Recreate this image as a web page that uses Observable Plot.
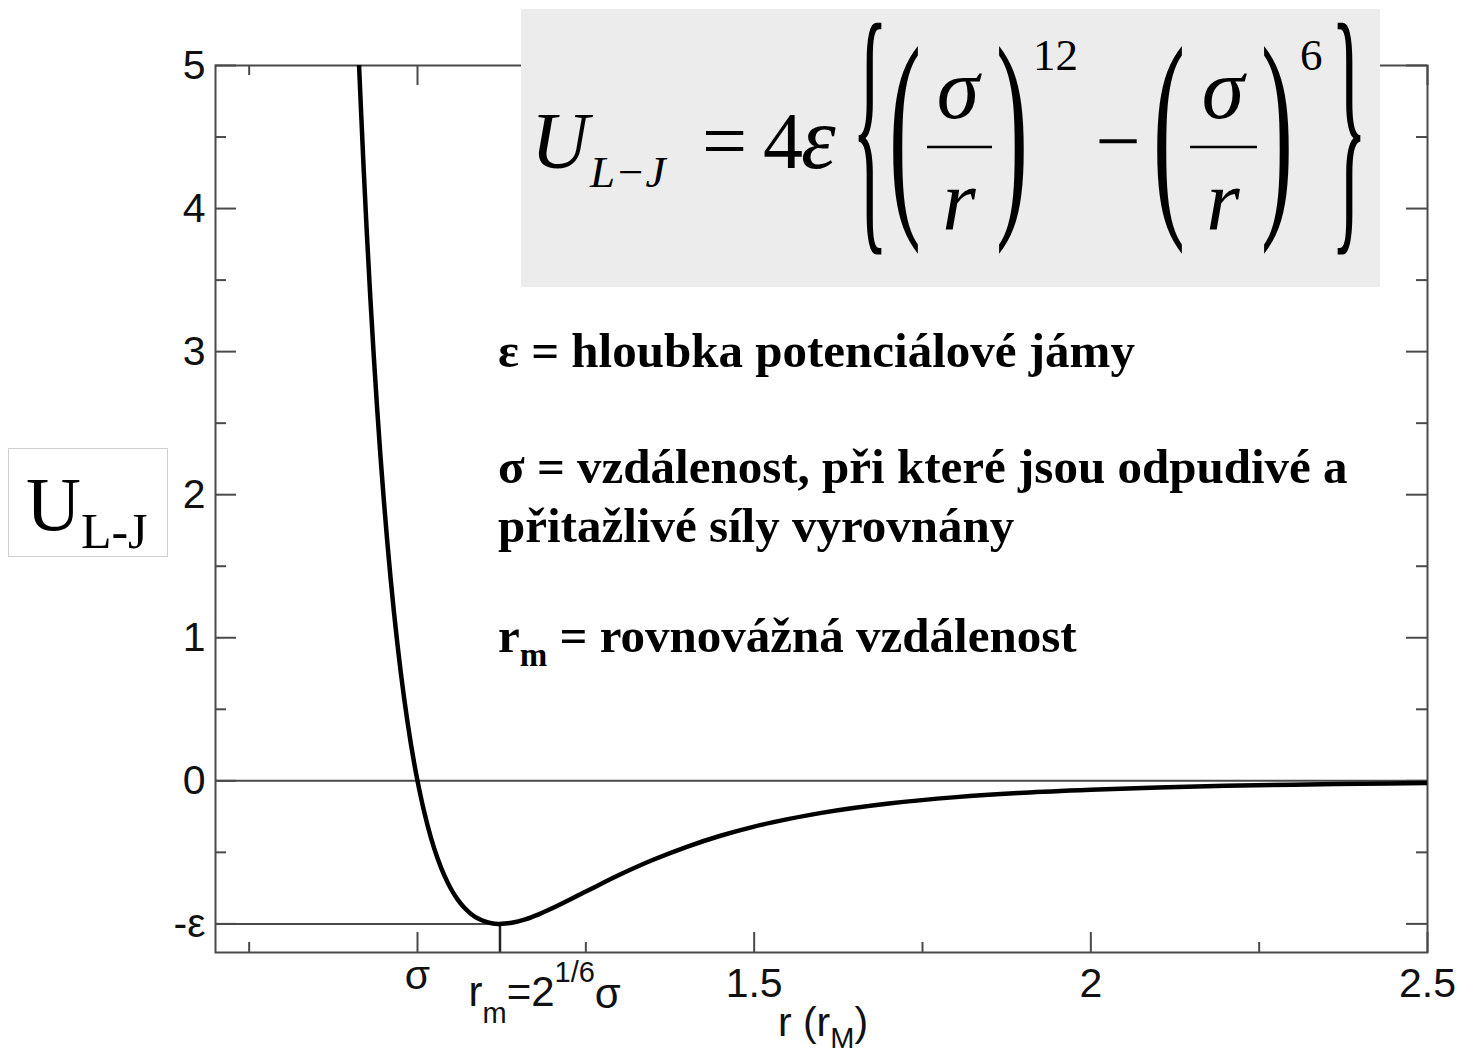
<!DOCTYPE html>
<html>
<head>
<meta charset="utf-8">
<script src="https://cdn.jsdelivr.net/npm/d3@7"></script>
<script src="https://cdn.jsdelivr.net/npm/@observablehq/plot@0.6"></script>
<style>
  html, body { margin: 0; padding: 0; background: #fff; }
  #chart svg { display: block; }
</style>
</head>
<body>
<div id="chart"></div>
<script>
// ---- data ----
const rValues = [0.912, 0.92, 0.925, 0.93, 0.935, 0.94, 0.945, 0.95, 0.955, 0.96,
  0.965, 0.97, 0.975, 0.98, 0.985, 0.99, 0.995, 1.0, 1.01, 1.02,
  1.03, 1.04, 1.05, 1.06, 1.07, 1.08, 1.09, 1.10, 1.11, 1.12,
  1.13, 1.14, 1.16, 1.18, 1.20, 1.25, 1.30, 1.35, 1.40, 1.45,
  1.50, 1.55, 1.60, 1.70, 1.80, 1.90, 2.0, 2.1, 2.2, 2.3,
  2.4, 2.5];
const uValues = [5.13, 4.283, 3.808, 3.373, 2.973, 2.607, 2.270, 1.961, 1.678, 1.418,
  1.180, 0.963, 0.764, 0.582, 0.416, 0.264, 0.125, 0, -0.218, -0.398,
  -0.544, -0.663, -0.758, -0.832, -0.889, -0.932, -0.963, -0.983, -0.995, -1.0,
  -0.998, -0.992, -0.968, -0.933, -0.891, -0.774, -0.657, -0.552, -0.461, -0.384,
  -0.320, -0.268, -0.224, -0.159, -0.114, -0.083, -0.062, -0.046, -0.035, -0.027,
  -0.021, -0.016];

const xDomain = [0.7, 2.5];
const yDomain = [-1.2, 5];
const sigmaValue = 1;
const rmValue = 1.1225;
const epsValue = -1;

const xMajorTicks = [1, 1.5, 2, 2.5];
const xMinorTicks = [0.75, 1.25, 1.75, 2.25];
const xNumericLabels = [1.5, 2, 2.5];
const xNumericLabelTexts = ["1.5", "2", "2.5"];
const yMajorTicks = [-1, 0, 1, 2, 3, 4, 5];
const yMinorTicks = [-0.5, 0.5, 1.5, 2.5, 3.5, 4.5];
const yTickLabels = ["-ε", "0", "1", "2", "3", "4", "5"];

const curve = rValues.map((r, i) => ({r, u: uValues[i]}));
const epsLine = [{x1: xDomain[0], x2: rmValue, y: epsValue}];
const rmLine = [{x: rmValue, y1: yDomain[0], y2: epsValue}];

// ---- layout ----
const W = 1461, H = 1054;
const mL = 215, mR = 34, mT = 65, mB = 102;
const innerW = W - mL - mR, innerH = H - mT - mB;
const axisColor = "#4a4a4a";
const sans = "'Liberation Sans', Arial, Helvetica, sans-serif";
const serif = "'Liberation Serif', 'Times New Roman', Times, serif";

const chart = Plot.plot({
  width: W, height: H,
  marginLeft: mL, marginRight: mR, marginTop: mT, marginBottom: mB,
  x: {domain: xDomain, axis: null},
  y: {domain: yDomain, axis: null},
  style: {fontFamily: sans, background: "#fff", color: "#000"},
  marks: [
    Plot.ruleY([0], {stroke: axisColor, strokeWidth: 2}),
    Plot.ruleY(epsLine, {y: "y", x1: "x1", x2: "x2", stroke: axisColor, strokeWidth: 2}),
    Plot.ruleX(rmLine, {x: "x", y1: "y1", y2: "y2", stroke: "#222", strokeWidth: 2.5}),
    // ticks (inward, on all four sides)
    Plot.tickX(xMajorTicks, {x: d => d, insetTop: innerH - 20, stroke: axisColor, strokeWidth: 2}),
    Plot.tickX(xMinorTicks, {x: d => d, insetTop: innerH - 10, stroke: axisColor, strokeWidth: 2}),
    Plot.tickX(xMajorTicks, {x: d => d, insetBottom: innerH - 20, stroke: axisColor, strokeWidth: 2}),
    Plot.tickX(xMinorTicks, {x: d => d, insetBottom: innerH - 10, stroke: axisColor, strokeWidth: 2}),
    Plot.tickY(yMajorTicks, {y: d => d, insetRight: innerW - 21, stroke: axisColor, strokeWidth: 2}),
    Plot.tickY(yMinorTicks, {y: d => d, insetRight: innerW - 11, stroke: axisColor, strokeWidth: 2}),
    Plot.tickY(yMajorTicks, {y: d => d, insetLeft: innerW - 21, stroke: axisColor, strokeWidth: 2}),
    Plot.tickY(yMinorTicks, {y: d => d, insetLeft: innerW - 11, stroke: axisColor, strokeWidth: 2}),
    Plot.frame({stroke: axisColor, strokeWidth: 2}),
    Plot.line(curve, {x: "r", y: "u", curve: "catmull-rom", stroke: "#000", strokeWidth: 4.5, clip: true}),
    // tick labels
    Plot.text(yMajorTicks, {y: d => d, text: (d, i) => yTickLabels[i], frameAnchor: "left",
      textAnchor: "end", dx: -10, fontSize: 41, fill: "#111"}),
    Plot.text(xNumericLabels, {x: d => d, text: (d, i) => xNumericLabelTexts[i], frameAnchor: "bottom",
      lineAnchor: "top", dy: 15, fontSize: 41, fill: "#111"}),
    Plot.text([sigmaValue], {x: d => d, text: () => "σ", frameAnchor: "bottom",
      lineAnchor: "top", dy: 7, fontSize: 41, fill: "#111"})
  ]
});

document.getElementById("chart").appendChild(chart);

const svg = d3.select(chart);
const xs = chart.scale("x");

// r_m label under the axis
const rmX = xs.apply(rmValue);
const rmT = svg.append("text").attr("x", rmX - 31).attr("y", 1006).attr("text-anchor", "start")
  .attr("font-family", sans).attr("font-size", 42).attr("fill", "#111");
rmT.append("tspan").text("r");
rmT.append("tspan").attr("font-size", 29).attr("dy", 17).text("m");
rmT.append("tspan").attr("dy", -17).text("=2");
rmT.append("tspan").attr("font-size", 29).attr("dy", -24).text("1/6");
rmT.append("tspan").attr("dy", 26).text("σ");

// x axis title
const xt = svg.append("text").attr("x", mL + innerW / 2 + 2).attr("y", 1036)
  .attr("text-anchor", "middle").attr("font-family", sans).attr("font-size", 41).attr("fill", "#111");
xt.append("tspan").text("r (r");
xt.append("tspan").attr("font-size", 29).attr("dy", 12).text("M");
xt.append("tspan").attr("dy", -12).text(")");

// y axis label box
svg.append("rect").attr("x", 8.5).attr("y", 448.5).attr("width", 159).attr("height", 108)
  .attr("fill", "#fff").attr("stroke", "#cfcfcf").attr("stroke-width", 1);
const yl = svg.append("text").attr("x", 26).attr("y", 530).attr("text-anchor", "start")
  .attr("font-family", serif).attr("font-size", 76).attr("fill", "#000");
yl.append("tspan").text("U");
yl.append("tspan").attr("font-size", 50).attr("dy", 18).text("L-J");

// formula box
svg.append("rect").attr("x", 521).attr("y", 9).attr("width", 859).attr("height", 278).attr("fill", "#ececec");
const f = svg.append("g").attr("font-family", serif).attr("fill", "#000").attr("text-anchor", "start");
function txt(x, y, s, size, opts = {}) {
  const t = f.append("text").attr("x", x).attr("y", y).attr("font-size", size).text(s);
  if (opts.italic) t.attr("font-style", "italic");
  t.attr("text-anchor", opts.anchor || "start");
  return t;
}
function bigGlyph(cx, cy, s, size, sx, sy) {
  f.append("text").attr("transform", `translate(${cx},${cy}) scale(${sx},${sy})`)
    .attr("text-anchor", "middle").attr("y", size * 0.25).attr("font-size", size).text(s);
}
txt(531, 168, "U", 80, {italic: true});
txt(590, 187, "L−J", 45, {italic: true});
txt(702, 168, "=", 80);
txt(763, 168, "4", 80);
txt(801, 168, "ε", 88, {italic: true});
bigGlyph(870, 147, "{", 80, 0.95, 3.5);
bigGlyph(905, 147.5, "(", 80, 1.2, 2.86);
txt(958, 118, "σ", 86, {italic: true, anchor: "middle"});
f.append("line").attr("x1", 927).attr("x2", 992).attr("y1", 147).attr("y2", 147).attr("stroke", "#000").attr("stroke-width", 2.5);
txt(959, 230, "r", 86, {italic: true, anchor: "middle"});
bigGlyph(1012, 147.5, ")", 80, 1.2, 2.86);
txt(1033, 70, "12", 45);
txt(1118, 168, "−", 80, {anchor: "middle"});
bigGlyph(1169, 147.5, "(", 80, 1.2, 2.86);
txt(1223, 118, "σ", 86, {italic: true, anchor: "middle"});
f.append("line").attr("x1", 1190).attr("x2", 1257).attr("y1", 147).attr("y2", 147).attr("stroke", "#000").attr("stroke-width", 2.5);
txt(1223, 230, "r", 86, {italic: true, anchor: "middle"});
bigGlyph(1277, 147.5, ")", 80, 1.2, 2.86);
txt(1300, 70, "6", 45);
bigGlyph(1349, 147, "}", 80, 0.95, 3.5);

// annotation text
const a = svg.append("g").attr("font-family", serif).attr("font-weight", "bold")
  .attr("font-size", 49).attr("fill", "#000").attr("text-anchor", "start");
a.append("text").attr("x", 498).attr("y", 367).text("ε = hloubka potenciálové jámy");
a.append("text").attr("x", 498).attr("y", 483).text("σ = vzdálenost, při které jsou odpudivé a");
a.append("text").attr("x", 498).attr("y", 542).text("přitažlivé síly vyrovnány");
const l4 = a.append("text").attr("x", 498).attr("y", 652);
l4.append("tspan").text("r");
l4.append("tspan").attr("font-size", 33).attr("dy", 14).text("m");
l4.append("tspan").attr("dy", -14).text(" = rovnovážná vzdálenost");
</script>
</body>
</html>
